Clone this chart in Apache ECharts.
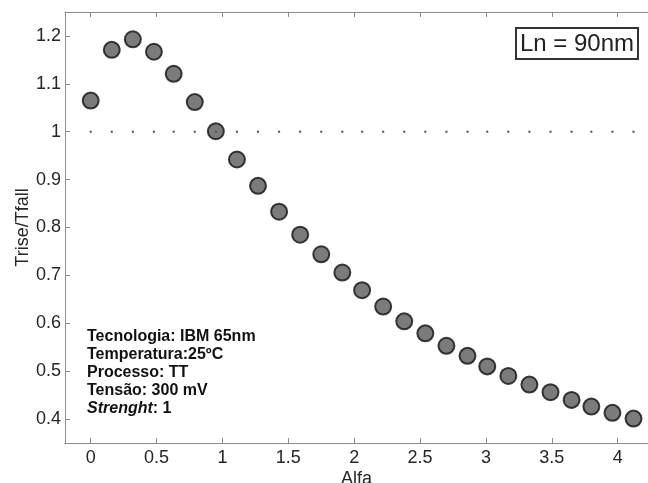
<!doctype html>
<html>
    <head>
        <meta charset="utf-8">
        <style>
            html, body { margin: 0; padding: 0; background: #fff; }
            #main { width: 648px; height: 483px; }
        </style>
    </head>
    <body>
        <div id="main"></div>
        <script src="https://cdn.jsdelivr.net/npm/echarts@6/dist/echarts.min.js"></script>
        <script>
            // Alfa values (x) and Trise/Tfall (y)
            var alfa = [0, 0.16, 0.32, 0.48, 0.63, 0.79, 0.95, 1.11, 1.27, 1.43, 1.59, 1.75, 1.91, 2.06,
                        2.22, 2.38, 2.54, 2.70, 2.86, 3.01, 3.17, 3.33, 3.49, 3.65, 3.80, 3.96, 4.12];
            var ratio = [1.065, 1.171, 1.193, 1.167, 1.121, 1.062, 1.001, 0.942, 0.887, 0.833, 0.785, 0.744,
                         0.706, 0.669, 0.635, 0.604, 0.579, 0.553, 0.532, 0.510, 0.490, 0.472, 0.456, 0.440,
                         0.426, 0.413, 0.401];
            var refLevel = 1;
            var xTicks = [0, 0.5, 1, 1.5, 2, 2.5, 3, 3.5, 4];
            var yTicks = [0.4, 0.5, 0.6, 0.7, 0.8, 0.9, 1, 1.1, 1.2];
            var infoLines = [
                ['Tecnologia: IBM 65nm'],
                ['Temperatura:25ºC'],
                ['Processo: TT'],
                ['Tensão: 300 mV']
            ];

            var chart = echarts.init(document.getElementById('main'));

            var font = 'Liberation Sans, Arial, sans-serif';
            var axisGray = '#8c8c8c';

            var textRich = infoLines.map(function (l) { return '{b|' + l[0] + '}'; }).join('\n') +
                '\n{i|Strenght}{b|: 1}';

            chart.setOption({
                animation: false,
                grid: { left: 65, top: 12, right: 0, bottom: 40, outerBoundsMode: 'none', containLabel: false },
                xAxis: [{
                    type: 'value',
                    min: -0.195,
                    max: 4.23,
                    name: 'Alfa',
                    nameLocation: 'middle',
                    nameGap: 27,
                    nameMoveOverlap: false,
                    nameTextStyle: { fontFamily: font, fontSize: 18, color: '#262626' },
                    axisLine: { onZero: false, lineStyle: { color: axisGray, width: 1 } },
                    axisTick: { inside: true, length: 5, customValues: xTicks, lineStyle: { color: axisGray } },
                    axisLabel: { customValues: xTicks, fontFamily: font, fontSize: 18, color: '#262626', margin: 6 },
                    splitLine: { show: false }
                }, {
                    type: 'value',
                    position: 'top',
                    min: -0.195,
                    max: 4.23,
                    axisLine: { show: true, onZero: false, lineStyle: { color: axisGray, width: 1 } },
                    axisTick: { show: true, inside: true, length: 5, customValues: xTicks, lineStyle: { color: axisGray } },
                    axisLabel: { show: false },
                    splitLine: { show: false }
                }],
                yAxis: {
                    type: 'value',
                    min: 0.35,
                    max: 1.25,
                    name: 'Trise/Tfall',
                    nameLocation: 'middle',
                    nameGap: 33,
                    nameMoveOverlap: false,
                    nameTextStyle: { fontFamily: font, fontSize: 18, color: '#262626' },
                    axisLine: { show: true, onZero: false, lineStyle: { color: axisGray, width: 1 } },
                    axisTick: { show: true, inside: true, length: 5, customValues: yTicks, lineStyle: { color: axisGray } },
                    axisLabel: { customValues: yTicks, fontFamily: font, fontSize: 18, color: '#262626', margin: 4 },
                    splitLine: { show: false }
                },
                series: [{
                    type: 'scatter',
                    symbol: 'rect',
                    symbolSize: 2,
                    itemStyle: { color: '#222' },
                    data: alfa.map(function (a) { return [a, refLevel]; }),
                    z: 1
                }, {
                    type: 'scatter',
                    symbolSize: 16,
                    itemStyle: { color: '#5a5a5a', borderColor: '#111', borderWidth: 2 },
                    data: alfa.map(function (a, i) { return [a, ratio[i]]; }),
                    z: 2
                }],
                graphic: [{
                    type: 'group',
                    left: 515,
                    top: 27,
                    children: [{
                        type: 'rect',
                        shape: { x: 0, y: 0, width: 122, height: 31 },
                        style: { fill: '#fff', stroke: '#333', lineWidth: 2 }
                    }, {
                        type: 'text',
                        x: 61,
                        y: 16,
                        style: {
                            text: 'Ln = 90nm',
                            font: '24px ' + font,
                            fill: '#222',
                            align: 'center',
                            verticalAlign: 'middle'
                        }
                    }]
                }, {
                    type: 'text',
                    left: 87,
                    top: 329,
                    style: {
                        text: textRich,
                        rich: {
                            b: { fontFamily: font, fontSize: 16, fontWeight: 'bold', fill: '#111', lineHeight: 18 },
                            i: { fontFamily: font, fontSize: 16, fontWeight: 'bold', fontStyle: 'italic', fill: '#111', lineHeight: 18 }
                        }
                    }
                }]
            });

            window.onresize = chart.resize;
        </script>
    </body>
</html>
